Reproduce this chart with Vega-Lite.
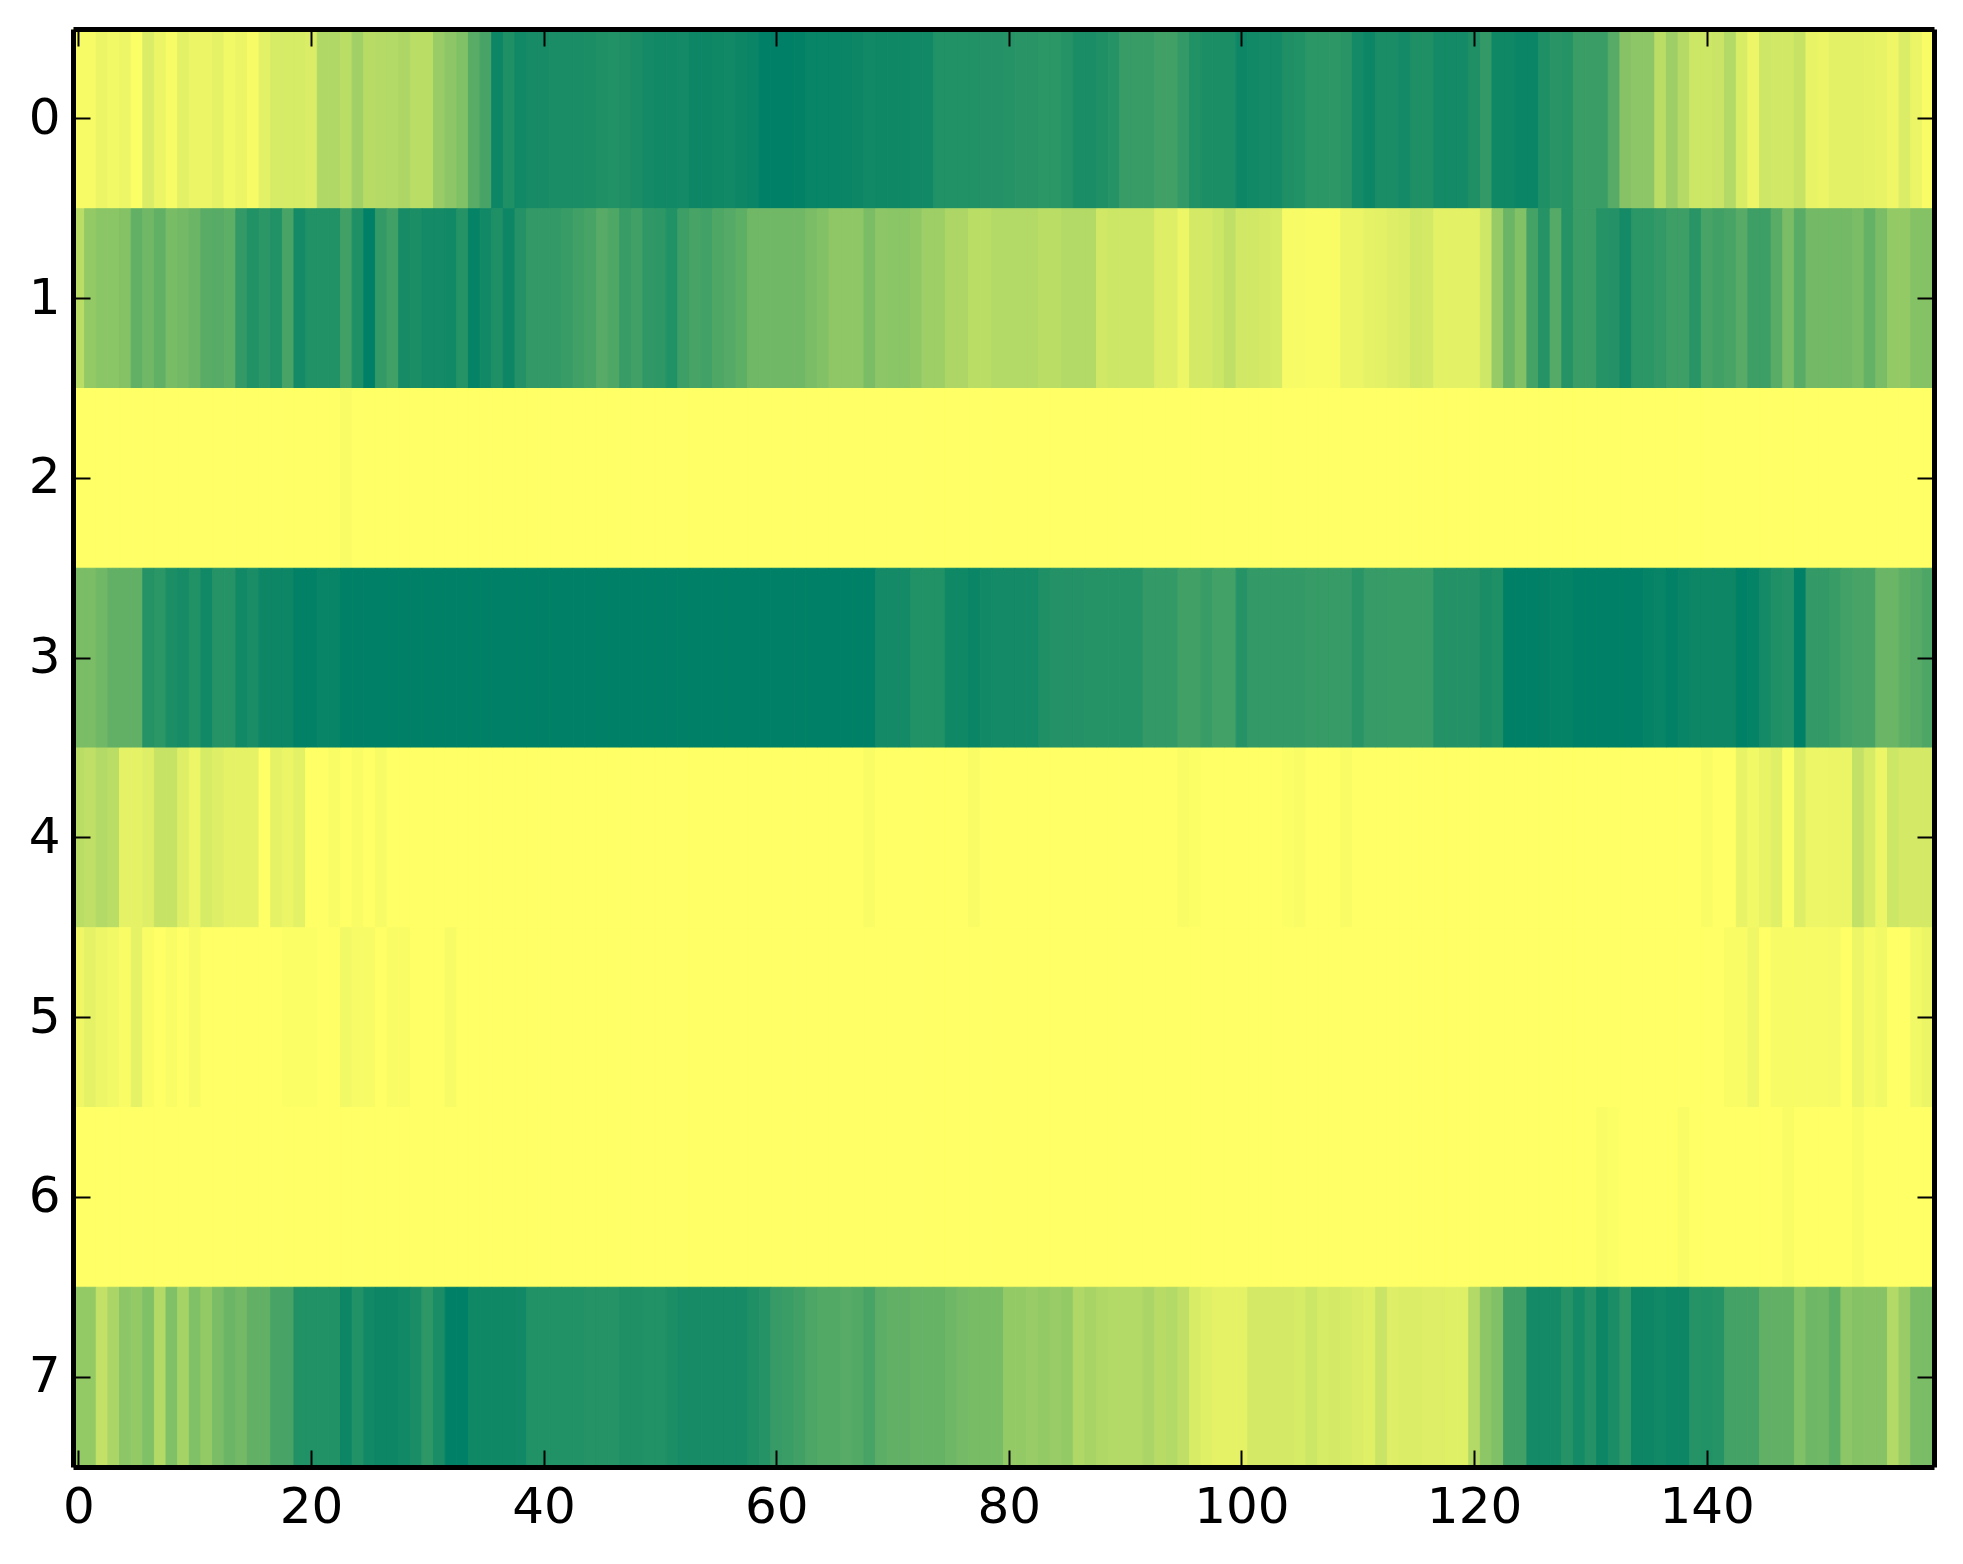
{"$schema":"https://vega.github.io/schema/vega-lite/v6.json","autosize":{"type":"none"},"width":1861,"height":1438,"padding":{"left":73,"top":29,"right":29,"bottom":97},"background":"white","config":{"view":{"stroke":null}},"data":{"values":[
{"x":0,"y":0,"v":0.03},{"x":1,"y":0,"v":0.03},{"x":2,"y":0,"v":0.08},{"x":3,"y":0,"v":0.05},{"x":4,"y":0,"v":0.07},{"x":5,"y":0,"v":0.01},{"x":6,"y":0,"v":0.14},{"x":7,"y":0,"v":0.08},{"x":8,"y":0,"v":0.03},{"x":9,"y":0,"v":0.11},{"x":10,"y":0,"v":0.08},{"x":11,"y":0,"v":0.08},{"x":12,"y":0,"v":0.1},{"x":13,"y":0,"v":0.05},{"x":14,"y":0,"v":0.08},{"x":15,"y":0,"v":0.03},{"x":16,"y":0,"v":0.11},{"x":17,"y":0,"v":0.16},{"x":18,"y":0,"v":0.16},{"x":19,"y":0,"v":0.16},{"x":20,"y":0,"v":0.14},{"x":21,"y":0,"v":0.31},{"x":22,"y":0,"v":0.31},{"x":23,"y":0,"v":0.27},{"x":24,"y":0,"v":0.37},{"x":25,"y":0,"v":0.28},{"x":26,"y":0,"v":0.29},{"x":27,"y":0,"v":0.3},{"x":28,"y":0,"v":0.32},{"x":29,"y":0,"v":0.27},{"x":30,"y":0,"v":0.27},{"x":31,"y":0,"v":0.4},{"x":32,"y":0,"v":0.45},{"x":33,"y":0,"v":0.5},{"x":34,"y":0,"v":0.65},{"x":35,"y":0,"v":0.72},{"x":36,"y":0,"v":0.95},{"x":37,"y":0,"v":0.88},{"x":38,"y":0,"v":0.93},{"x":39,"y":0,"v":0.91},{"x":40,"y":0,"v":0.91},{"x":41,"y":0,"v":0.9},{"x":42,"y":0,"v":0.9},{"x":43,"y":0,"v":0.9},{"x":44,"y":0,"v":0.89},{"x":45,"y":0,"v":0.88},{"x":46,"y":0,"v":0.87},{"x":47,"y":0,"v":0.88},{"x":48,"y":0,"v":0.9},{"x":49,"y":0,"v":0.92},{"x":50,"y":0,"v":0.93},{"x":51,"y":0,"v":0.93},{"x":52,"y":0,"v":0.92},{"x":53,"y":0,"v":0.95},{"x":54,"y":0,"v":0.95},{"x":55,"y":0,"v":0.94},{"x":56,"y":0,"v":0.93},{"x":57,"y":0,"v":0.95},{"x":58,"y":0,"v":0.96},{"x":59,"y":0,"v":1},{"x":60,"y":0,"v":1},{"x":61,"y":0,"v":1},{"x":62,"y":0,"v":0.99},{"x":63,"y":0,"v":0.97},{"x":64,"y":0,"v":0.97},{"x":65,"y":0,"v":0.97},{"x":66,"y":0,"v":0.96},{"x":67,"y":0,"v":0.95},{"x":68,"y":0,"v":0.93},{"x":69,"y":0,"v":0.94},{"x":70,"y":0,"v":0.94},{"x":71,"y":0,"v":0.94},{"x":72,"y":0,"v":0.93},{"x":73,"y":0,"v":0.93},{"x":74,"y":0,"v":0.87},{"x":75,"y":0,"v":0.87},{"x":76,"y":0,"v":0.87},{"x":77,"y":0,"v":0.87},{"x":78,"y":0,"v":0.86},{"x":79,"y":0,"v":0.86},{"x":80,"y":0,"v":0.85},{"x":81,"y":0,"v":0.84},{"x":82,"y":0,"v":0.84},{"x":83,"y":0,"v":0.83},{"x":84,"y":0,"v":0.83},{"x":85,"y":0,"v":0.85},{"x":86,"y":0,"v":0.9},{"x":87,"y":0,"v":0.9},{"x":88,"y":0,"v":0.88},{"x":89,"y":0,"v":0.85},{"x":90,"y":0,"v":0.78},{"x":91,"y":0,"v":0.78},{"x":92,"y":0,"v":0.78},{"x":93,"y":0,"v":0.75},{"x":94,"y":0,"v":0.75},{"x":95,"y":0,"v":0.8},{"x":96,"y":0,"v":0.87},{"x":97,"y":0,"v":0.89},{"x":98,"y":0,"v":0.89},{"x":99,"y":0,"v":0.89},{"x":100,"y":0,"v":0.95},{"x":101,"y":0,"v":0.93},{"x":102,"y":0,"v":0.92},{"x":103,"y":0,"v":0.92},{"x":104,"y":0,"v":0.88},{"x":105,"y":0,"v":0.87},{"x":106,"y":0,"v":0.83},{"x":107,"y":0,"v":0.83},{"x":108,"y":0,"v":0.82},{"x":109,"y":0,"v":0.84},{"x":110,"y":0,"v":0.92},{"x":111,"y":0,"v":0.95},{"x":112,"y":0,"v":0.9},{"x":113,"y":0,"v":0.9},{"x":114,"y":0,"v":0.92},{"x":115,"y":0,"v":0.88},{"x":116,"y":0,"v":0.88},{"x":117,"y":0,"v":0.92},{"x":118,"y":0,"v":0.92},{"x":119,"y":0,"v":0.92},{"x":120,"y":0,"v":0.88},{"x":121,"y":0,"v":0.8},{"x":122,"y":0,"v":0.94},{"x":123,"y":0,"v":0.94},{"x":124,"y":0,"v":0.96},{"x":125,"y":0,"v":0.96},{"x":126,"y":0,"v":0.88},{"x":127,"y":0,"v":0.84},{"x":128,"y":0,"v":0.85},{"x":129,"y":0,"v":0.77},{"x":130,"y":0,"v":0.77},{"x":131,"y":0,"v":0.77},{"x":132,"y":0,"v":0.66},{"x":133,"y":0,"v":0.47},{"x":134,"y":0,"v":0.45},{"x":135,"y":0,"v":0.45},{"x":136,"y":0,"v":0.27},{"x":137,"y":0,"v":0.38},{"x":138,"y":0,"v":0.29},{"x":139,"y":0,"v":0.2},{"x":140,"y":0,"v":0.2},{"x":141,"y":0,"v":0.21},{"x":142,"y":0,"v":0.3},{"x":143,"y":0,"v":0.15},{"x":144,"y":0,"v":0.07},{"x":145,"y":0,"v":0.19},{"x":146,"y":0,"v":0.18},{"x":147,"y":0,"v":0.18},{"x":148,"y":0,"v":0.22},{"x":149,"y":0,"v":0.09},{"x":150,"y":0,"v":0.08},{"x":151,"y":0,"v":0.11},{"x":152,"y":0,"v":0.11},{"x":153,"y":0,"v":0.11},{"x":154,"y":0,"v":0.1},{"x":155,"y":0,"v":0.09},{"x":156,"y":0,"v":0.06},{"x":157,"y":0,"v":0.14},{"x":158,"y":0,"v":0.08},{"x":159,"y":0,"v":0.02},
{"x":0,"y":1,"v":0.27},{"x":1,"y":1,"v":0.42},{"x":2,"y":1,"v":0.46},{"x":3,"y":1,"v":0.46},{"x":4,"y":1,"v":0.48},{"x":5,"y":1,"v":0.62},{"x":6,"y":1,"v":0.56},{"x":7,"y":1,"v":0.62},{"x":8,"y":1,"v":0.53},{"x":9,"y":1,"v":0.55},{"x":10,"y":1,"v":0.58},{"x":11,"y":1,"v":0.65},{"x":12,"y":1,"v":0.66},{"x":13,"y":1,"v":0.63},{"x":14,"y":1,"v":0.8},{"x":15,"y":1,"v":0.87},{"x":16,"y":1,"v":0.83},{"x":17,"y":1,"v":0.87},{"x":18,"y":1,"v":0.72},{"x":19,"y":1,"v":0.92},{"x":20,"y":1,"v":0.87},{"x":21,"y":1,"v":0.87},{"x":22,"y":1,"v":0.87},{"x":23,"y":1,"v":0.75},{"x":24,"y":1,"v":0.88},{"x":25,"y":1,"v":1},{"x":26,"y":1,"v":0.8},{"x":27,"y":1,"v":0.75},{"x":28,"y":1,"v":0.91},{"x":29,"y":1,"v":0.89},{"x":30,"y":1,"v":0.92},{"x":31,"y":1,"v":0.92},{"x":32,"y":1,"v":0.93},{"x":33,"y":1,"v":0.85},{"x":34,"y":1,"v":0.98},{"x":35,"y":1,"v":0.93},{"x":36,"y":1,"v":0.88},{"x":37,"y":1,"v":0.95},{"x":38,"y":1,"v":0.86},{"x":39,"y":1,"v":0.8},{"x":40,"y":1,"v":0.8},{"x":41,"y":1,"v":0.8},{"x":42,"y":1,"v":0.78},{"x":43,"y":1,"v":0.75},{"x":44,"y":1,"v":0.72},{"x":45,"y":1,"v":0.66},{"x":46,"y":1,"v":0.69},{"x":47,"y":1,"v":0.78},{"x":48,"y":1,"v":0.75},{"x":49,"y":1,"v":0.81},{"x":50,"y":1,"v":0.82},{"x":51,"y":1,"v":0.87},{"x":52,"y":1,"v":0.76},{"x":53,"y":1,"v":0.72},{"x":54,"y":1,"v":0.74},{"x":55,"y":1,"v":0.69},{"x":56,"y":1,"v":0.67},{"x":57,"y":1,"v":0.63},{"x":58,"y":1,"v":0.56},{"x":59,"y":1,"v":0.56},{"x":60,"y":1,"v":0.56},{"x":61,"y":1,"v":0.56},{"x":62,"y":1,"v":0.56},{"x":63,"y":1,"v":0.52},{"x":64,"y":1,"v":0.49},{"x":65,"y":1,"v":0.44},{"x":66,"y":1,"v":0.44},{"x":67,"y":1,"v":0.44},{"x":68,"y":1,"v":0.52},{"x":69,"y":1,"v":0.45},{"x":70,"y":1,"v":0.46},{"x":71,"y":1,"v":0.46},{"x":72,"y":1,"v":0.43},{"x":73,"y":1,"v":0.38},{"x":74,"y":1,"v":0.38},{"x":75,"y":1,"v":0.32},{"x":76,"y":1,"v":0.32},{"x":77,"y":1,"v":0.27},{"x":78,"y":1,"v":0.27},{"x":79,"y":1,"v":0.3},{"x":80,"y":1,"v":0.3},{"x":81,"y":1,"v":0.3},{"x":82,"y":1,"v":0.3},{"x":83,"y":1,"v":0.27},{"x":84,"y":1,"v":0.27},{"x":85,"y":1,"v":0.3},{"x":86,"y":1,"v":0.3},{"x":87,"y":1,"v":0.3},{"x":88,"y":1,"v":0.18},{"x":89,"y":1,"v":0.2},{"x":90,"y":1,"v":0.2},{"x":91,"y":1,"v":0.2},{"x":92,"y":1,"v":0.2},{"x":93,"y":1,"v":0.13},{"x":94,"y":1,"v":0.13},{"x":95,"y":1,"v":0.07},{"x":96,"y":1,"v":0.17},{"x":97,"y":1,"v":0.17},{"x":98,"y":1,"v":0.2},{"x":99,"y":1,"v":0.25},{"x":100,"y":1,"v":0.18},{"x":101,"y":1,"v":0.18},{"x":102,"y":1,"v":0.17},{"x":103,"y":1,"v":0.16},{"x":104,"y":1,"v":0.03},{"x":105,"y":1,"v":0.03},{"x":106,"y":1,"v":0.02},{"x":107,"y":1,"v":0.02},{"x":108,"y":1,"v":0.02},{"x":109,"y":1,"v":0.08},{"x":110,"y":1,"v":0.08},{"x":111,"y":1,"v":0.1},{"x":112,"y":1,"v":0.11},{"x":113,"y":1,"v":0.13},{"x":114,"y":1,"v":0.14},{"x":115,"y":1,"v":0.18},{"x":116,"y":1,"v":0.17},{"x":117,"y":1,"v":0.11},{"x":118,"y":1,"v":0.11},{"x":119,"y":1,"v":0.11},{"x":120,"y":1,"v":0.11},{"x":121,"y":1,"v":0.19},{"x":122,"y":1,"v":0.41},{"x":123,"y":1,"v":0.58},{"x":124,"y":1,"v":0.49},{"x":125,"y":1,"v":0.73},{"x":126,"y":1,"v":0.85},{"x":127,"y":1,"v":0.67},{"x":128,"y":1,"v":0.85},{"x":129,"y":1,"v":0.77},{"x":130,"y":1,"v":0.77},{"x":131,"y":1,"v":0.85},{"x":132,"y":1,"v":0.86},{"x":133,"y":1,"v":0.92},{"x":134,"y":1,"v":0.83},{"x":135,"y":1,"v":0.83},{"x":136,"y":1,"v":0.8},{"x":137,"y":1,"v":0.76},{"x":138,"y":1,"v":0.76},{"x":139,"y":1,"v":0.84},{"x":140,"y":1,"v":0.72},{"x":141,"y":1,"v":0.75},{"x":142,"y":1,"v":0.72},{"x":143,"y":1,"v":0.66},{"x":144,"y":1,"v":0.76},{"x":145,"y":1,"v":0.76},{"x":146,"y":1,"v":0.65},{"x":147,"y":1,"v":0.52},{"x":148,"y":1,"v":0.65},{"x":149,"y":1,"v":0.55},{"x":150,"y":1,"v":0.55},{"x":151,"y":1,"v":0.55},{"x":152,"y":1,"v":0.55},{"x":153,"y":1,"v":0.52},{"x":154,"y":1,"v":0.61},{"x":155,"y":1,"v":0.52},{"x":156,"y":1,"v":0.42},{"x":157,"y":1,"v":0.42},{"x":158,"y":1,"v":0.48},{"x":159,"y":1,"v":0.48},
{"x":0,"y":2,"v":0},{"x":1,"y":2,"v":0},{"x":2,"y":2,"v":0},{"x":3,"y":2,"v":0},{"x":4,"y":2,"v":0},{"x":5,"y":2,"v":0},{"x":6,"y":2,"v":0},{"x":7,"y":2,"v":0},{"x":8,"y":2,"v":0},{"x":9,"y":2,"v":0},{"x":10,"y":2,"v":0},{"x":11,"y":2,"v":0},{"x":12,"y":2,"v":0},{"x":13,"y":2,"v":0},{"x":14,"y":2,"v":0},{"x":15,"y":2,"v":0},{"x":16,"y":2,"v":0},{"x":17,"y":2,"v":0},{"x":18,"y":2,"v":0},{"x":19,"y":2,"v":0},{"x":20,"y":2,"v":0},{"x":21,"y":2,"v":0},{"x":22,"y":2,"v":0},{"x":23,"y":2,"v":0.02},{"x":24,"y":2,"v":0},{"x":25,"y":2,"v":0},{"x":26,"y":2,"v":0},{"x":27,"y":2,"v":0},{"x":28,"y":2,"v":0},{"x":29,"y":2,"v":0},{"x":30,"y":2,"v":0},{"x":31,"y":2,"v":0},{"x":32,"y":2,"v":0},{"x":33,"y":2,"v":0},{"x":34,"y":2,"v":0},{"x":35,"y":2,"v":0},{"x":36,"y":2,"v":0},{"x":37,"y":2,"v":0},{"x":38,"y":2,"v":0},{"x":39,"y":2,"v":0},{"x":40,"y":2,"v":0},{"x":41,"y":2,"v":0},{"x":42,"y":2,"v":0},{"x":43,"y":2,"v":0},{"x":44,"y":2,"v":0},{"x":45,"y":2,"v":0},{"x":46,"y":2,"v":0},{"x":47,"y":2,"v":0},{"x":48,"y":2,"v":0},{"x":49,"y":2,"v":0},{"x":50,"y":2,"v":0},{"x":51,"y":2,"v":0},{"x":52,"y":2,"v":0},{"x":53,"y":2,"v":0},{"x":54,"y":2,"v":0},{"x":55,"y":2,"v":0},{"x":56,"y":2,"v":0},{"x":57,"y":2,"v":0},{"x":58,"y":2,"v":0},{"x":59,"y":2,"v":0},{"x":60,"y":2,"v":0},{"x":61,"y":2,"v":0},{"x":62,"y":2,"v":0},{"x":63,"y":2,"v":0},{"x":64,"y":2,"v":0},{"x":65,"y":2,"v":0},{"x":66,"y":2,"v":0},{"x":67,"y":2,"v":0},{"x":68,"y":2,"v":0},{"x":69,"y":2,"v":0},{"x":70,"y":2,"v":0},{"x":71,"y":2,"v":0},{"x":72,"y":2,"v":0},{"x":73,"y":2,"v":0},{"x":74,"y":2,"v":0},{"x":75,"y":2,"v":0},{"x":76,"y":2,"v":0},{"x":77,"y":2,"v":0},{"x":78,"y":2,"v":0},{"x":79,"y":2,"v":0},{"x":80,"y":2,"v":0},{"x":81,"y":2,"v":0},{"x":82,"y":2,"v":0},{"x":83,"y":2,"v":0},{"x":84,"y":2,"v":0},{"x":85,"y":2,"v":0},{"x":86,"y":2,"v":0},{"x":87,"y":2,"v":0},{"x":88,"y":2,"v":0},{"x":89,"y":2,"v":0},{"x":90,"y":2,"v":0},{"x":91,"y":2,"v":0},{"x":92,"y":2,"v":0},{"x":93,"y":2,"v":0},{"x":94,"y":2,"v":0},{"x":95,"y":2,"v":0},{"x":96,"y":2,"v":0},{"x":97,"y":2,"v":0},{"x":98,"y":2,"v":0},{"x":99,"y":2,"v":0},{"x":100,"y":2,"v":0},{"x":101,"y":2,"v":0},{"x":102,"y":2,"v":0},{"x":103,"y":2,"v":0},{"x":104,"y":2,"v":0},{"x":105,"y":2,"v":0},{"x":106,"y":2,"v":0},{"x":107,"y":2,"v":0},{"x":108,"y":2,"v":0},{"x":109,"y":2,"v":0},{"x":110,"y":2,"v":0},{"x":111,"y":2,"v":0},{"x":112,"y":2,"v":0},{"x":113,"y":2,"v":0},{"x":114,"y":2,"v":0},{"x":115,"y":2,"v":0},{"x":116,"y":2,"v":0},{"x":117,"y":2,"v":0},{"x":118,"y":2,"v":0},{"x":119,"y":2,"v":0},{"x":120,"y":2,"v":0},{"x":121,"y":2,"v":0},{"x":122,"y":2,"v":0},{"x":123,"y":2,"v":0},{"x":124,"y":2,"v":0},{"x":125,"y":2,"v":0},{"x":126,"y":2,"v":0},{"x":127,"y":2,"v":0},{"x":128,"y":2,"v":0},{"x":129,"y":2,"v":0},{"x":130,"y":2,"v":0},{"x":131,"y":2,"v":0},{"x":132,"y":2,"v":0},{"x":133,"y":2,"v":0},{"x":134,"y":2,"v":0},{"x":135,"y":2,"v":0},{"x":136,"y":2,"v":0},{"x":137,"y":2,"v":0},{"x":138,"y":2,"v":0},{"x":139,"y":2,"v":0},{"x":140,"y":2,"v":0},{"x":141,"y":2,"v":0},{"x":142,"y":2,"v":0},{"x":143,"y":2,"v":0},{"x":144,"y":2,"v":0},{"x":145,"y":2,"v":0},{"x":146,"y":2,"v":0},{"x":147,"y":2,"v":0},{"x":148,"y":2,"v":0},{"x":149,"y":2,"v":0},{"x":150,"y":2,"v":0},{"x":151,"y":2,"v":0},{"x":152,"y":2,"v":0},{"x":153,"y":2,"v":0},{"x":154,"y":2,"v":0},{"x":155,"y":2,"v":0},{"x":156,"y":2,"v":0},{"x":157,"y":2,"v":0},{"x":158,"y":2,"v":0},{"x":159,"y":2,"v":0},
{"x":0,"y":3,"v":0.52},{"x":1,"y":3,"v":0.52},{"x":2,"y":3,"v":0.56},{"x":3,"y":3,"v":0.62},{"x":4,"y":3,"v":0.62},{"x":5,"y":3,"v":0.62},{"x":6,"y":3,"v":0.85},{"x":7,"y":3,"v":0.83},{"x":8,"y":3,"v":0.89},{"x":9,"y":3,"v":0.91},{"x":10,"y":3,"v":0.87},{"x":11,"y":3,"v":0.93},{"x":12,"y":3,"v":0.85},{"x":13,"y":3,"v":0.85},{"x":14,"y":3,"v":0.93},{"x":15,"y":3,"v":0.9},{"x":16,"y":3,"v":0.95},{"x":17,"y":3,"v":0.95},{"x":18,"y":3,"v":0.95},{"x":19,"y":3,"v":0.99},{"x":20,"y":3,"v":0.99},{"x":21,"y":3,"v":0.97},{"x":22,"y":3,"v":0.97},{"x":23,"y":3,"v":1},{"x":24,"y":3,"v":1},{"x":25,"y":3,"v":1},{"x":26,"y":3,"v":1},{"x":27,"y":3,"v":1},{"x":28,"y":3,"v":1},{"x":29,"y":3,"v":1},{"x":30,"y":3,"v":1},{"x":31,"y":3,"v":1},{"x":32,"y":3,"v":1},{"x":33,"y":3,"v":1},{"x":34,"y":3,"v":1},{"x":35,"y":3,"v":1},{"x":36,"y":3,"v":1},{"x":37,"y":3,"v":1},{"x":38,"y":3,"v":1},{"x":39,"y":3,"v":1},{"x":40,"y":3,"v":1},{"x":41,"y":3,"v":1},{"x":42,"y":3,"v":1},{"x":43,"y":3,"v":1},{"x":44,"y":3,"v":1},{"x":45,"y":3,"v":1},{"x":46,"y":3,"v":1},{"x":47,"y":3,"v":1},{"x":48,"y":3,"v":1},{"x":49,"y":3,"v":1},{"x":50,"y":3,"v":1},{"x":51,"y":3,"v":1},{"x":52,"y":3,"v":1},{"x":53,"y":3,"v":1},{"x":54,"y":3,"v":1},{"x":55,"y":3,"v":1},{"x":56,"y":3,"v":1},{"x":57,"y":3,"v":1},{"x":58,"y":3,"v":1},{"x":59,"y":3,"v":1},{"x":60,"y":3,"v":1},{"x":61,"y":3,"v":1},{"x":62,"y":3,"v":1},{"x":63,"y":3,"v":1},{"x":64,"y":3,"v":1},{"x":65,"y":3,"v":1},{"x":66,"y":3,"v":1},{"x":67,"y":3,"v":1},{"x":68,"y":3,"v":1},{"x":69,"y":3,"v":0.92},{"x":70,"y":3,"v":0.92},{"x":71,"y":3,"v":0.92},{"x":72,"y":3,"v":0.87},{"x":73,"y":3,"v":0.87},{"x":74,"y":3,"v":0.87},{"x":75,"y":3,"v":0.94},{"x":76,"y":3,"v":0.94},{"x":77,"y":3,"v":0.96},{"x":78,"y":3,"v":0.93},{"x":79,"y":3,"v":0.92},{"x":80,"y":3,"v":0.92},{"x":81,"y":3,"v":0.92},{"x":82,"y":3,"v":0.92},{"x":83,"y":3,"v":0.88},{"x":84,"y":3,"v":0.86},{"x":85,"y":3,"v":0.86},{"x":86,"y":3,"v":0.86},{"x":87,"y":3,"v":0.85},{"x":88,"y":3,"v":0.85},{"x":89,"y":3,"v":0.85},{"x":90,"y":3,"v":0.85},{"x":91,"y":3,"v":0.85},{"x":92,"y":3,"v":0.8},{"x":93,"y":3,"v":0.8},{"x":94,"y":3,"v":0.8},{"x":95,"y":3,"v":0.75},{"x":96,"y":3,"v":0.75},{"x":97,"y":3,"v":0.78},{"x":98,"y":3,"v":0.74},{"x":99,"y":3,"v":0.74},{"x":100,"y":3,"v":0.85},{"x":101,"y":3,"v":0.8},{"x":102,"y":3,"v":0.8},{"x":103,"y":3,"v":0.8},{"x":104,"y":3,"v":0.8},{"x":105,"y":3,"v":0.8},{"x":106,"y":3,"v":0.79},{"x":107,"y":3,"v":0.79},{"x":108,"y":3,"v":0.79},{"x":109,"y":3,"v":0.79},{"x":110,"y":3,"v":0.84},{"x":111,"y":3,"v":0.79},{"x":112,"y":3,"v":0.79},{"x":113,"y":3,"v":0.78},{"x":114,"y":3,"v":0.78},{"x":115,"y":3,"v":0.78},{"x":116,"y":3,"v":0.78},{"x":117,"y":3,"v":0.86},{"x":118,"y":3,"v":0.86},{"x":119,"y":3,"v":0.86},{"x":120,"y":3,"v":0.86},{"x":121,"y":3,"v":0.9},{"x":122,"y":3,"v":0.88},{"x":123,"y":3,"v":1},{"x":124,"y":3,"v":1},{"x":125,"y":3,"v":1},{"x":126,"y":3,"v":0.99},{"x":127,"y":3,"v":0.98},{"x":128,"y":3,"v":0.98},{"x":129,"y":3,"v":1},{"x":130,"y":3,"v":1},{"x":131,"y":3,"v":1},{"x":132,"y":3,"v":1},{"x":133,"y":3,"v":1},{"x":134,"y":3,"v":1},{"x":135,"y":3,"v":0.98},{"x":136,"y":3,"v":0.97},{"x":137,"y":3,"v":0.99},{"x":138,"y":3,"v":0.97},{"x":139,"y":3,"v":0.95},{"x":140,"y":3,"v":0.95},{"x":141,"y":3,"v":0.95},{"x":142,"y":3,"v":0.95},{"x":143,"y":3,"v":1},{"x":144,"y":3,"v":0.98},{"x":145,"y":3,"v":0.92},{"x":146,"y":3,"v":0.88},{"x":147,"y":3,"v":0.86},{"x":148,"y":3,"v":1},{"x":149,"y":3,"v":0.8},{"x":150,"y":3,"v":0.8},{"x":151,"y":3,"v":0.78},{"x":152,"y":3,"v":0.74},{"x":153,"y":3,"v":0.72},{"x":154,"y":3,"v":0.72},{"x":155,"y":3,"v":0.58},{"x":156,"y":3,"v":0.58},{"x":157,"y":3,"v":0.63},{"x":158,"y":3,"v":0.66},{"x":159,"y":3,"v":0.7},
{"x":0,"y":4,"v":0.27},{"x":1,"y":4,"v":0.25},{"x":2,"y":4,"v":0.3},{"x":3,"y":4,"v":0.27},{"x":4,"y":4,"v":0.1},{"x":5,"y":4,"v":0.1},{"x":6,"y":4,"v":0.13},{"x":7,"y":4,"v":0.22},{"x":8,"y":4,"v":0.22},{"x":9,"y":4,"v":0.13},{"x":10,"y":4,"v":0.07},{"x":11,"y":4,"v":0.16},{"x":12,"y":4,"v":0.13},{"x":13,"y":4,"v":0.1},{"x":14,"y":4,"v":0.1},{"x":15,"y":4,"v":0.1},{"x":16,"y":4,"v":0},{"x":17,"y":4,"v":0.1},{"x":18,"y":4,"v":0.08},{"x":19,"y":4,"v":0.11},{"x":20,"y":4,"v":0},{"x":21,"y":4,"v":0},{"x":22,"y":4,"v":0.02},{"x":23,"y":4,"v":0},{"x":24,"y":4,"v":0.02},{"x":25,"y":4,"v":0},{"x":26,"y":4,"v":0.03},{"x":27,"y":4,"v":0},{"x":28,"y":4,"v":0},{"x":29,"y":4,"v":0},{"x":30,"y":4,"v":0},{"x":31,"y":4,"v":0},{"x":32,"y":4,"v":0},{"x":33,"y":4,"v":0},{"x":34,"y":4,"v":0},{"x":35,"y":4,"v":0},{"x":36,"y":4,"v":0},{"x":37,"y":4,"v":0},{"x":38,"y":4,"v":0},{"x":39,"y":4,"v":0},{"x":40,"y":4,"v":0},{"x":41,"y":4,"v":0},{"x":42,"y":4,"v":0},{"x":43,"y":4,"v":0},{"x":44,"y":4,"v":0},{"x":45,"y":4,"v":0},{"x":46,"y":4,"v":0},{"x":47,"y":4,"v":0},{"x":48,"y":4,"v":0},{"x":49,"y":4,"v":0},{"x":50,"y":4,"v":0},{"x":51,"y":4,"v":0},{"x":52,"y":4,"v":0},{"x":53,"y":4,"v":0},{"x":54,"y":4,"v":0},{"x":55,"y":4,"v":0},{"x":56,"y":4,"v":0},{"x":57,"y":4,"v":0},{"x":58,"y":4,"v":0},{"x":59,"y":4,"v":0},{"x":60,"y":4,"v":0},{"x":61,"y":4,"v":0},{"x":62,"y":4,"v":0},{"x":63,"y":4,"v":0},{"x":64,"y":4,"v":0},{"x":65,"y":4,"v":0},{"x":66,"y":4,"v":0},{"x":67,"y":4,"v":0},{"x":68,"y":4,"v":0.02},{"x":69,"y":4,"v":0},{"x":70,"y":4,"v":0},{"x":71,"y":4,"v":0},{"x":72,"y":4,"v":0},{"x":73,"y":4,"v":0},{"x":74,"y":4,"v":0},{"x":75,"y":4,"v":0},{"x":76,"y":4,"v":0},{"x":77,"y":4,"v":0.02},{"x":78,"y":4,"v":0},{"x":79,"y":4,"v":0},{"x":80,"y":4,"v":0},{"x":81,"y":4,"v":0},{"x":82,"y":4,"v":0},{"x":83,"y":4,"v":0},{"x":84,"y":4,"v":0},{"x":85,"y":4,"v":0},{"x":86,"y":4,"v":0},{"x":87,"y":4,"v":0},{"x":88,"y":4,"v":0},{"x":89,"y":4,"v":0},{"x":90,"y":4,"v":0},{"x":91,"y":4,"v":0},{"x":92,"y":4,"v":0},{"x":93,"y":4,"v":0},{"x":94,"y":4,"v":0},{"x":95,"y":4,"v":0.02},{"x":96,"y":4,"v":0.01},{"x":97,"y":4,"v":0},{"x":98,"y":4,"v":0},{"x":99,"y":4,"v":0},{"x":100,"y":4,"v":0},{"x":101,"y":4,"v":0},{"x":102,"y":4,"v":0},{"x":103,"y":4,"v":0},{"x":104,"y":4,"v":0.01},{"x":105,"y":4,"v":0.02},{"x":106,"y":4,"v":0},{"x":107,"y":4,"v":0},{"x":108,"y":4,"v":0},{"x":109,"y":4,"v":0.02},{"x":110,"y":4,"v":0},{"x":111,"y":4,"v":0},{"x":112,"y":4,"v":0},{"x":113,"y":4,"v":0},{"x":114,"y":4,"v":0},{"x":115,"y":4,"v":0},{"x":116,"y":4,"v":0},{"x":117,"y":4,"v":0},{"x":118,"y":4,"v":0},{"x":119,"y":4,"v":0},{"x":120,"y":4,"v":0},{"x":121,"y":4,"v":0},{"x":122,"y":4,"v":0},{"x":123,"y":4,"v":0},{"x":124,"y":4,"v":0},{"x":125,"y":4,"v":0},{"x":126,"y":4,"v":0},{"x":127,"y":4,"v":0},{"x":128,"y":4,"v":0},{"x":129,"y":4,"v":0},{"x":130,"y":4,"v":0},{"x":131,"y":4,"v":0},{"x":132,"y":4,"v":0},{"x":133,"y":4,"v":0},{"x":134,"y":4,"v":0},{"x":135,"y":4,"v":0},{"x":136,"y":4,"v":0},{"x":137,"y":4,"v":0},{"x":138,"y":4,"v":0},{"x":139,"y":4,"v":0},{"x":140,"y":4,"v":0.02},{"x":141,"y":4,"v":0},{"x":142,"y":4,"v":0},{"x":143,"y":4,"v":0.09},{"x":144,"y":4,"v":0.05},{"x":145,"y":4,"v":0.09},{"x":146,"y":4,"v":0.12},{"x":147,"y":4,"v":0.01},{"x":148,"y":4,"v":0.13},{"x":149,"y":4,"v":0.07},{"x":150,"y":4,"v":0.07},{"x":151,"y":4,"v":0.08},{"x":152,"y":4,"v":0.08},{"x":153,"y":4,"v":0.24},{"x":154,"y":4,"v":0.16},{"x":155,"y":4,"v":0.07},{"x":156,"y":4,"v":0.2},{"x":157,"y":4,"v":0.17},{"x":158,"y":4,"v":0.17},{"x":159,"y":4,"v":0.17},
{"x":0,"y":5,"v":0.06},{"x":1,"y":5,"v":0.1},{"x":2,"y":5,"v":0.07},{"x":3,"y":5,"v":0.05},{"x":4,"y":5,"v":0.02},{"x":5,"y":5,"v":0.1},{"x":6,"y":5,"v":0.02},{"x":7,"y":5,"v":0},{"x":8,"y":5,"v":0.02},{"x":9,"y":5,"v":0},{"x":10,"y":5,"v":0.03},{"x":11,"y":5,"v":0},{"x":12,"y":5,"v":0},{"x":13,"y":5,"v":0},{"x":14,"y":5,"v":0},{"x":15,"y":5,"v":0},{"x":16,"y":5,"v":0},{"x":17,"y":5,"v":0},{"x":18,"y":5,"v":0.01},{"x":19,"y":5,"v":0.01},{"x":20,"y":5,"v":0.01},{"x":21,"y":5,"v":0},{"x":22,"y":5,"v":0},{"x":23,"y":5,"v":0.05},{"x":24,"y":5,"v":0.03},{"x":25,"y":5,"v":0.03},{"x":26,"y":5,"v":0},{"x":27,"y":5,"v":0.02},{"x":28,"y":5,"v":0.02},{"x":29,"y":5,"v":0},{"x":30,"y":5,"v":0},{"x":31,"y":5,"v":0},{"x":32,"y":5,"v":0.03},{"x":33,"y":5,"v":0},{"x":34,"y":5,"v":0},{"x":35,"y":5,"v":0},{"x":36,"y":5,"v":0},{"x":37,"y":5,"v":0},{"x":38,"y":5,"v":0},{"x":39,"y":5,"v":0},{"x":40,"y":5,"v":0},{"x":41,"y":5,"v":0},{"x":42,"y":5,"v":0},{"x":43,"y":5,"v":0},{"x":44,"y":5,"v":0},{"x":45,"y":5,"v":0},{"x":46,"y":5,"v":0},{"x":47,"y":5,"v":0},{"x":48,"y":5,"v":0},{"x":49,"y":5,"v":0},{"x":50,"y":5,"v":0},{"x":51,"y":5,"v":0},{"x":52,"y":5,"v":0},{"x":53,"y":5,"v":0},{"x":54,"y":5,"v":0},{"x":55,"y":5,"v":0},{"x":56,"y":5,"v":0},{"x":57,"y":5,"v":0},{"x":58,"y":5,"v":0},{"x":59,"y":5,"v":0},{"x":60,"y":5,"v":0},{"x":61,"y":5,"v":0},{"x":62,"y":5,"v":0},{"x":63,"y":5,"v":0},{"x":64,"y":5,"v":0},{"x":65,"y":5,"v":0},{"x":66,"y":5,"v":0},{"x":67,"y":5,"v":0},{"x":68,"y":5,"v":0},{"x":69,"y":5,"v":0},{"x":70,"y":5,"v":0},{"x":71,"y":5,"v":0},{"x":72,"y":5,"v":0},{"x":73,"y":5,"v":0},{"x":74,"y":5,"v":0},{"x":75,"y":5,"v":0},{"x":76,"y":5,"v":0},{"x":77,"y":5,"v":0},{"x":78,"y":5,"v":0},{"x":79,"y":5,"v":0},{"x":80,"y":5,"v":0},{"x":81,"y":5,"v":0},{"x":82,"y":5,"v":0},{"x":83,"y":5,"v":0},{"x":84,"y":5,"v":0},{"x":85,"y":5,"v":0},{"x":86,"y":5,"v":0},{"x":87,"y":5,"v":0},{"x":88,"y":5,"v":0},{"x":89,"y":5,"v":0},{"x":90,"y":5,"v":0},{"x":91,"y":5,"v":0},{"x":92,"y":5,"v":0},{"x":93,"y":5,"v":0},{"x":94,"y":5,"v":0},{"x":95,"y":5,"v":0},{"x":96,"y":5,"v":0},{"x":97,"y":5,"v":0},{"x":98,"y":5,"v":0},{"x":99,"y":5,"v":0},{"x":100,"y":5,"v":0},{"x":101,"y":5,"v":0},{"x":102,"y":5,"v":0},{"x":103,"y":5,"v":0},{"x":104,"y":5,"v":0},{"x":105,"y":5,"v":0},{"x":106,"y":5,"v":0},{"x":107,"y":5,"v":0},{"x":108,"y":5,"v":0},{"x":109,"y":5,"v":0},{"x":110,"y":5,"v":0},{"x":111,"y":5,"v":0},{"x":112,"y":5,"v":0},{"x":113,"y":5,"v":0},{"x":114,"y":5,"v":0},{"x":115,"y":5,"v":0},{"x":116,"y":5,"v":0},{"x":117,"y":5,"v":0},{"x":118,"y":5,"v":0},{"x":119,"y":5,"v":0},{"x":120,"y":5,"v":0},{"x":121,"y":5,"v":0},{"x":122,"y":5,"v":0},{"x":123,"y":5,"v":0},{"x":124,"y":5,"v":0},{"x":125,"y":5,"v":0},{"x":126,"y":5,"v":0},{"x":127,"y":5,"v":0},{"x":128,"y":5,"v":0},{"x":129,"y":5,"v":0},{"x":130,"y":5,"v":0},{"x":131,"y":5,"v":0},{"x":132,"y":5,"v":0},{"x":133,"y":5,"v":0},{"x":134,"y":5,"v":0},{"x":135,"y":5,"v":0},{"x":136,"y":5,"v":0},{"x":137,"y":5,"v":0},{"x":138,"y":5,"v":0},{"x":139,"y":5,"v":0},{"x":140,"y":5,"v":0},{"x":141,"y":5,"v":0},{"x":142,"y":5,"v":0.02},{"x":143,"y":5,"v":0.02},{"x":144,"y":5,"v":0.06},{"x":145,"y":5,"v":0},{"x":146,"y":5,"v":0.03},{"x":147,"y":5,"v":0.03},{"x":148,"y":5,"v":0.03},{"x":149,"y":5,"v":0.03},{"x":150,"y":5,"v":0.03},{"x":151,"y":5,"v":0.04},{"x":152,"y":5,"v":0},{"x":153,"y":5,"v":0.07},{"x":154,"y":5,"v":0.03},{"x":155,"y":5,"v":0.05},{"x":156,"y":5,"v":0},{"x":157,"y":5,"v":0},{"x":158,"y":5,"v":0.05},{"x":159,"y":5,"v":0.08},
{"x":0,"y":6,"v":0},{"x":1,"y":6,"v":0},{"x":2,"y":6,"v":0},{"x":3,"y":6,"v":0},{"x":4,"y":6,"v":0},{"x":5,"y":6,"v":0},{"x":6,"y":6,"v":0},{"x":7,"y":6,"v":0},{"x":8,"y":6,"v":0},{"x":9,"y":6,"v":0},{"x":10,"y":6,"v":0},{"x":11,"y":6,"v":0},{"x":12,"y":6,"v":0},{"x":13,"y":6,"v":0},{"x":14,"y":6,"v":0},{"x":15,"y":6,"v":0},{"x":16,"y":6,"v":0},{"x":17,"y":6,"v":0},{"x":18,"y":6,"v":0},{"x":19,"y":6,"v":0},{"x":20,"y":6,"v":0},{"x":21,"y":6,"v":0},{"x":22,"y":6,"v":0},{"x":23,"y":6,"v":0},{"x":24,"y":6,"v":0},{"x":25,"y":6,"v":0},{"x":26,"y":6,"v":0},{"x":27,"y":6,"v":0},{"x":28,"y":6,"v":0},{"x":29,"y":6,"v":0},{"x":30,"y":6,"v":0},{"x":31,"y":6,"v":0},{"x":32,"y":6,"v":0},{"x":33,"y":6,"v":0},{"x":34,"y":6,"v":0},{"x":35,"y":6,"v":0},{"x":36,"y":6,"v":0},{"x":37,"y":6,"v":0},{"x":38,"y":6,"v":0},{"x":39,"y":6,"v":0},{"x":40,"y":6,"v":0},{"x":41,"y":6,"v":0},{"x":42,"y":6,"v":0},{"x":43,"y":6,"v":0},{"x":44,"y":6,"v":0},{"x":45,"y":6,"v":0},{"x":46,"y":6,"v":0},{"x":47,"y":6,"v":0},{"x":48,"y":6,"v":0},{"x":49,"y":6,"v":0},{"x":50,"y":6,"v":0},{"x":51,"y":6,"v":0},{"x":52,"y":6,"v":0},{"x":53,"y":6,"v":0},{"x":54,"y":6,"v":0},{"x":55,"y":6,"v":0},{"x":56,"y":6,"v":0},{"x":57,"y":6,"v":0},{"x":58,"y":6,"v":0},{"x":59,"y":6,"v":0},{"x":60,"y":6,"v":0},{"x":61,"y":6,"v":0},{"x":62,"y":6,"v":0},{"x":63,"y":6,"v":0},{"x":64,"y":6,"v":0},{"x":65,"y":6,"v":0},{"x":66,"y":6,"v":0},{"x":67,"y":6,"v":0},{"x":68,"y":6,"v":0},{"x":69,"y":6,"v":0},{"x":70,"y":6,"v":0},{"x":71,"y":6,"v":0},{"x":72,"y":6,"v":0},{"x":73,"y":6,"v":0},{"x":74,"y":6,"v":0},{"x":75,"y":6,"v":0},{"x":76,"y":6,"v":0},{"x":77,"y":6,"v":0},{"x":78,"y":6,"v":0},{"x":79,"y":6,"v":0},{"x":80,"y":6,"v":0},{"x":81,"y":6,"v":0},{"x":82,"y":6,"v":0},{"x":83,"y":6,"v":0},{"x":84,"y":6,"v":0},{"x":85,"y":6,"v":0},{"x":86,"y":6,"v":0},{"x":87,"y":6,"v":0},{"x":88,"y":6,"v":0},{"x":89,"y":6,"v":0},{"x":90,"y":6,"v":0},{"x":91,"y":6,"v":0},{"x":92,"y":6,"v":0},{"x":93,"y":6,"v":0},{"x":94,"y":6,"v":0},{"x":95,"y":6,"v":0},{"x":96,"y":6,"v":0},{"x":97,"y":6,"v":0},{"x":98,"y":6,"v":0},{"x":99,"y":6,"v":0},{"x":100,"y":6,"v":0},{"x":101,"y":6,"v":0},{"x":102,"y":6,"v":0},{"x":103,"y":6,"v":0},{"x":104,"y":6,"v":0},{"x":105,"y":6,"v":0},{"x":106,"y":6,"v":0},{"x":107,"y":6,"v":0},{"x":108,"y":6,"v":0},{"x":109,"y":6,"v":0},{"x":110,"y":6,"v":0},{"x":111,"y":6,"v":0},{"x":112,"y":6,"v":0},{"x":113,"y":6,"v":0},{"x":114,"y":6,"v":0},{"x":115,"y":6,"v":0},{"x":116,"y":6,"v":0},{"x":117,"y":6,"v":0},{"x":118,"y":6,"v":0},{"x":119,"y":6,"v":0},{"x":120,"y":6,"v":0},{"x":121,"y":6,"v":0},{"x":122,"y":6,"v":0},{"x":123,"y":6,"v":0},{"x":124,"y":6,"v":0},{"x":125,"y":6,"v":0},{"x":126,"y":6,"v":0},{"x":127,"y":6,"v":0},{"x":128,"y":6,"v":0},{"x":129,"y":6,"v":0},{"x":130,"y":6,"v":0},{"x":131,"y":6,"v":0.02},{"x":132,"y":6,"v":0.01},{"x":133,"y":6,"v":0},{"x":134,"y":6,"v":0},{"x":135,"y":6,"v":0},{"x":136,"y":6,"v":0},{"x":137,"y":6,"v":0},{"x":138,"y":6,"v":0.02},{"x":139,"y":6,"v":0},{"x":140,"y":6,"v":0},{"x":141,"y":6,"v":0},{"x":142,"y":6,"v":0},{"x":143,"y":6,"v":0},{"x":144,"y":6,"v":0},{"x":145,"y":6,"v":0},{"x":146,"y":6,"v":0},{"x":147,"y":6,"v":0.02},{"x":148,"y":6,"v":0},{"x":149,"y":6,"v":0},{"x":150,"y":6,"v":0},{"x":151,"y":6,"v":0},{"x":152,"y":6,"v":0},{"x":153,"y":6,"v":0.02},{"x":154,"y":6,"v":0},{"x":155,"y":6,"v":0},{"x":156,"y":6,"v":0},{"x":157,"y":6,"v":0},{"x":158,"y":6,"v":0},{"x":159,"y":6,"v":0},
{"x":0,"y":7,"v":0.42},{"x":1,"y":7,"v":0.42},{"x":2,"y":7,"v":0.24},{"x":3,"y":7,"v":0.33},{"x":4,"y":7,"v":0.45},{"x":5,"y":7,"v":0.42},{"x":6,"y":7,"v":0.5},{"x":7,"y":7,"v":0.3},{"x":8,"y":7,"v":0.5},{"x":9,"y":7,"v":0.35},{"x":10,"y":7,"v":0.5},{"x":11,"y":7,"v":0.42},{"x":12,"y":7,"v":0.52},{"x":13,"y":7,"v":0.58},{"x":14,"y":7,"v":0.55},{"x":15,"y":7,"v":0.62},{"x":16,"y":7,"v":0.62},{"x":17,"y":7,"v":0.72},{"x":18,"y":7,"v":0.72},{"x":19,"y":7,"v":0.87},{"x":20,"y":7,"v":0.87},{"x":21,"y":7,"v":0.87},{"x":22,"y":7,"v":0.87},{"x":23,"y":7,"v":0.95},{"x":24,"y":7,"v":0.87},{"x":25,"y":7,"v":0.93},{"x":26,"y":7,"v":0.95},{"x":27,"y":7,"v":0.95},{"x":28,"y":7,"v":0.93},{"x":29,"y":7,"v":0.9},{"x":30,"y":7,"v":0.82},{"x":31,"y":7,"v":0.9},{"x":32,"y":7,"v":1},{"x":33,"y":7,"v":1},{"x":34,"y":7,"v":0.94},{"x":35,"y":7,"v":0.94},{"x":36,"y":7,"v":0.94},{"x":37,"y":7,"v":0.94},{"x":38,"y":7,"v":0.93},{"x":39,"y":7,"v":0.87},{"x":40,"y":7,"v":0.87},{"x":41,"y":7,"v":0.87},{"x":42,"y":7,"v":0.87},{"x":43,"y":7,"v":0.87},{"x":44,"y":7,"v":0.85},{"x":45,"y":7,"v":0.85},{"x":46,"y":7,"v":0.85},{"x":47,"y":7,"v":0.88},{"x":48,"y":7,"v":0.88},{"x":49,"y":7,"v":0.87},{"x":50,"y":7,"v":0.87},{"x":51,"y":7,"v":0.89},{"x":52,"y":7,"v":0.91},{"x":53,"y":7,"v":0.91},{"x":54,"y":7,"v":0.91},{"x":55,"y":7,"v":0.91},{"x":56,"y":7,"v":0.91},{"x":57,"y":7,"v":0.91},{"x":58,"y":7,"v":0.88},{"x":59,"y":7,"v":0.85},{"x":60,"y":7,"v":0.79},{"x":61,"y":7,"v":0.77},{"x":62,"y":7,"v":0.75},{"x":63,"y":7,"v":0.7},{"x":64,"y":7,"v":0.68},{"x":65,"y":7,"v":0.68},{"x":66,"y":7,"v":0.66},{"x":67,"y":7,"v":0.68},{"x":68,"y":7,"v":0.72},{"x":69,"y":7,"v":0.64},{"x":70,"y":7,"v":0.62},{"x":71,"y":7,"v":0.62},{"x":72,"y":7,"v":0.6},{"x":73,"y":7,"v":0.6},{"x":74,"y":7,"v":0.6},{"x":75,"y":7,"v":0.57},{"x":76,"y":7,"v":0.54},{"x":77,"y":7,"v":0.53},{"x":78,"y":7,"v":0.53},{"x":79,"y":7,"v":0.53},{"x":80,"y":7,"v":0.42},{"x":81,"y":7,"v":0.42},{"x":82,"y":7,"v":0.4},{"x":83,"y":7,"v":0.42},{"x":84,"y":7,"v":0.4},{"x":85,"y":7,"v":0.42},{"x":86,"y":7,"v":0.31},{"x":87,"y":7,"v":0.34},{"x":88,"y":7,"v":0.31},{"x":89,"y":7,"v":0.3},{"x":90,"y":7,"v":0.3},{"x":91,"y":7,"v":0.3},{"x":92,"y":7,"v":0.33},{"x":93,"y":7,"v":0.28},{"x":94,"y":7,"v":0.3},{"x":95,"y":7,"v":0.25},{"x":96,"y":7,"v":0.15},{"x":97,"y":7,"v":0.12},{"x":98,"y":7,"v":0.1},{"x":99,"y":7,"v":0.1},{"x":100,"y":7,"v":0.1},{"x":101,"y":7,"v":0.17},{"x":102,"y":7,"v":0.17},{"x":103,"y":7,"v":0.17},{"x":104,"y":7,"v":0.17},{"x":105,"y":7,"v":0.16},{"x":106,"y":7,"v":0.2},{"x":107,"y":7,"v":0.16},{"x":108,"y":7,"v":0.17},{"x":109,"y":7,"v":0.16},{"x":110,"y":7,"v":0.14},{"x":111,"y":7,"v":0.12},{"x":112,"y":7,"v":0.21},{"x":113,"y":7,"v":0.13},{"x":114,"y":7,"v":0.14},{"x":115,"y":7,"v":0.14},{"x":116,"y":7,"v":0.13},{"x":117,"y":7,"v":0.13},{"x":118,"y":7,"v":0.12},{"x":119,"y":7,"v":0.12},{"x":120,"y":7,"v":0.3},{"x":121,"y":7,"v":0.45},{"x":122,"y":7,"v":0.5},{"x":123,"y":7,"v":0.75},{"x":124,"y":7,"v":0.75},{"x":125,"y":7,"v":0.92},{"x":126,"y":7,"v":0.92},{"x":127,"y":7,"v":0.92},{"x":128,"y":7,"v":0.85},{"x":129,"y":7,"v":0.92},{"x":130,"y":7,"v":0.86},{"x":131,"y":7,"v":0.95},{"x":132,"y":7,"v":0.9},{"x":133,"y":7,"v":0.82},{"x":134,"y":7,"v":0.95},{"x":135,"y":7,"v":0.95},{"x":136,"y":7,"v":0.93},{"x":137,"y":7,"v":0.95},{"x":138,"y":7,"v":0.95},{"x":139,"y":7,"v":0.85},{"x":140,"y":7,"v":0.87},{"x":141,"y":7,"v":0.85},{"x":142,"y":7,"v":0.73},{"x":143,"y":7,"v":0.73},{"x":144,"y":7,"v":0.73},{"x":145,"y":7,"v":0.62},{"x":146,"y":7,"v":0.62},{"x":147,"y":7,"v":0.62},{"x":148,"y":7,"v":0.5},{"x":149,"y":7,"v":0.57},{"x":150,"y":7,"v":0.56},{"x":151,"y":7,"v":0.63},{"x":152,"y":7,"v":0.45},{"x":153,"y":7,"v":0.48},{"x":154,"y":7,"v":0.47},{"x":155,"y":7,"v":0.47},{"x":156,"y":7,"v":0.3},{"x":157,"y":7,"v":0.4},{"x":158,"y":7,"v":0.52},{"x":159,"y":7,"v":0.52}
]},"layer":[
{"mark":{"type":"rect","strokeWidth":1},"encoding":{
"x":{"field":"x","type":"ordinal","scale":{"paddingInner":0,"paddingOuter":0,"round":false},"axis":{"orient":"bottom","values":[0,20,40,60,80,100,120,140],"title":null,"grid":false,"labelAngle":0,"labelFont":"DejaVu Sans","labelFontSize":50,"labelColor":"#000000","labelPadding":32,"tickSize":-17,"tickWidth":2,"tickColor":"#000000","domainColor":"#000000","domainWidth":5,"zindex":1}},
"y":{"field":"y","type":"ordinal","scale":{"paddingInner":0,"paddingOuter":0,"round":false},"axis":{"orient":"left","title":null,"grid":false,"labelFont":"DejaVu Sans","labelFontSize":50,"labelColor":"#000000","labelPadding":30,"tickSize":-17,"tickWidth":2,"tickColor":"#000000","domainColor":"#000000","domainWidth":5,"zindex":1}},
"color":{"field":"v","type":"quantitative","legend":null,"scale":{"domain":[0,1],"range":["#ffff66","#008066"],"interpolate":"rgb"}},
"stroke":{"field":"v","type":"quantitative","legend":null,"scale":{"domain":[0,1],"range":["#ffff66","#008066"],"interpolate":"rgb"}}}},
{"mark":{"type":"rect","opacity":0},"encoding":{
"x":{"field":"x","type":"ordinal","axis":{"orient":"top","values":[0,20,40,60,80,100,120,140],"title":null,"grid":false,"labels":false,"tickSize":-17,"tickWidth":2,"tickColor":"#000000","domainColor":"#000000","domainWidth":5,"zindex":1}},
"y":{"field":"y","type":"ordinal","axis":{"orient":"right","title":null,"grid":false,"labels":false,"tickSize":-17,"tickWidth":2,"tickColor":"#000000","domainColor":"#000000","domainWidth":5,"zindex":1}}}}
],"resolve":{"axis":{"x":"independent","y":"independent"}}}
